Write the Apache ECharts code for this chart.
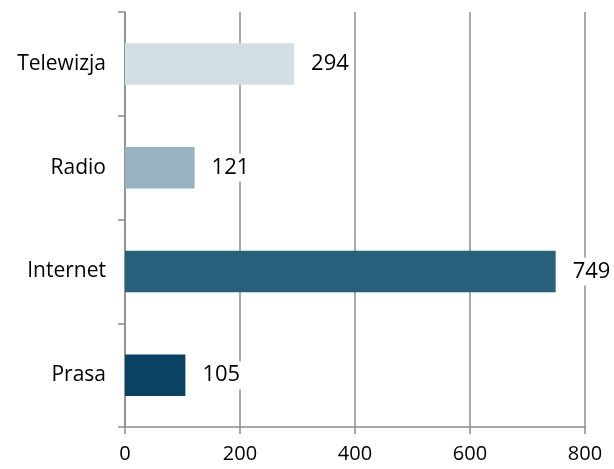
<!DOCTYPE html>
<html>
<head>
<meta charset="utf-8">
<script src="https://cdn.jsdelivr.net/npm/echarts@6/dist/echarts.min.js"></script>
<style>html,body{margin:0;padding:0;background:#fff}#c{width:614px;height:469px}</style>
</head>
<body>
<div id="c"></div>
<script>
const categories = ['Telewizja', 'Radio', 'Internet', 'Prasa'];
const values = [294, 121, 749, 105];
const barColors = ['#d4dfe5', '#97b2c0', '#27607a', '#0a4263'];
const xTicks = [0, 200, 400, 600, 800];

const chart = echarts.init(document.getElementById('c'), null, {renderer: 'canvas'});
const font = '"Open Sans", "Liberation Sans", sans-serif';
chart.setOption({
  animation: false,
  backgroundColor: '#fff',
  grid: {left: 125, right: 29, top: 12, bottom: 42, containLabel: false},
  xAxis: {
    type: 'value', min: xTicks[0], max: xTicks[xTicks.length - 1], interval: 200,
    axisLine: {show: true, lineStyle: {color: '#8c8c8c', width: 1.5}},
    axisTick: {show: true, length: 7, lineStyle: {color: '#8c8c8c', width: 1.5}},
    splitLine: {show: true, lineStyle: {color: '#8c8c8c', width: 1.5}},
    axisLabel: {color: '#000', fontSize: 20, fontFamily: font, margin: 17}
  },
  yAxis: {
    type: 'category', data: categories, inverse: true,
    axisLine: {show: true, lineStyle: {color: '#8c8c8c', width: 1.5}},
    axisTick: {show: true, length: 7, lineStyle: {color: '#8c8c8c', width: 1.5}},
    axisLabel: {color: '#000', fontSize: 21, fontFamily: font, margin: 19}
  },
  series: [{
    type: 'bar',
    data: values.map((v, i) => ({value: v, itemStyle: {color: barColors[i]}})),
    barCategoryGap: '60%',
    label: {
      show: true, position: 'right', distance: 12,
      color: '#000', fontSize: 22, fontFamily: font,
      backgroundColor: '#fff', padding: [3, 5]
    }
  }]
});
</script>
</body>
</html>
